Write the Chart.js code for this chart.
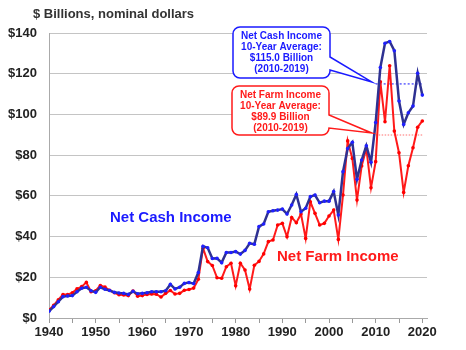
<!DOCTYPE html>
<html>
<head>
<meta charset="utf-8">
<script src="https://cdn.jsdelivr.net/npm/chart.js@4.4.1/dist/chart.umd.min.js"></script>
<style>
  body { margin: 0; background: #fff; }
  #wrap { width: 466px; height: 350px; position: relative; }
</style>
</head>
<body>
<div id="wrap"><canvas id="myChart"></canvas></div>
<script>
// years 1940-2020
const years = [
  1940, 1941, 1942, 1943, 1944, 1945, 1946, 1947, 1948, 1949,
  1950, 1951, 1952, 1953, 1954, 1955, 1956, 1957, 1958, 1959,
  1960, 1961, 1962, 1963, 1964, 1965, 1966, 1967, 1968, 1969,
  1970, 1971, 1972, 1973, 1974, 1975, 1976, 1977, 1978, 1979,
  1980, 1981, 1982, 1983, 1984, 1985, 1986, 1987, 1988, 1989,
  1990, 1991, 1992, 1993, 1994, 1995, 1996, 1997, 1998, 1999,
  2000, 2001, 2002, 2003, 2004, 2005, 2006, 2007, 2008, 2009,
  2010, 2011, 2012, 2013, 2014, 2015, 2016, 2017, 2018, 2019, 2020
];

// $ billions
const netCashIncome = [
  3.3, 5.6, 8.0, 10.5, 10.8, 11.0, 12.9, 14.6, 15.1, 13.4,
  12.6, 15.1, 14.1, 13.5, 12.6, 12.3, 12.1, 11.6, 13.1, 11.9,
  12.1, 12.4, 12.9, 12.9, 12.9, 13.4, 16.5, 14.3, 15.1, 17.0,
  17.4, 16.9, 22.3, 35.2, 34.5, 29.2, 29.3, 27.2, 32.2, 32.2,
  32.6, 31.4, 33.2, 36.7, 36.2, 44.9, 46.2, 52.2, 52.7, 53.0,
  53.5, 51.1, 55.5, 60.7, 52.2, 53.9, 59.6, 60.4, 56.6, 57.4,
  57.4, 62.1, 50.6, 71.9, 83.3, 86.3, 68.1, 77.6, 84.6, 76.5,
  96.0, 123.0, 135.0, 135.8, 131.3, 106.6, 95.1, 100.8, 104.1, 120.2, 109.5
];

const netFarmIncome = [
  4.0, 6.2, 9.0, 11.5, 11.5, 12.4, 14.3, 15.4, 17.5, 12.9,
  13.4, 16.0, 15.2, 13.6, 12.4, 11.4, 11.3, 11.0, 13.3, 10.7,
  11.0, 11.6, 11.8, 11.7, 10.3, 12.1, 13.5, 11.8, 12.1, 13.6,
  14.0, 14.7, 19.0, 34.3, 27.7, 25.8, 19.8, 19.5, 25.2, 26.9,
  15.8, 26.9, 23.6, 14.2, 25.9, 27.8, 31.5, 37.5, 38.3, 45.7,
  46.5, 39.9, 49.4, 46.8, 51.1, 39.1, 57.1, 51.4, 45.7, 46.5,
  50.1, 53.0, 38.6, 60.4, 87.0, 78.4, 58.0, 74.7, 83.3, 64.0,
  76.8, 116.0, 96.4, 123.9, 91.8, 81.2, 61.7, 74.8, 83.6, 93.7, 96.8
];

// 10-year averages (2010-2019)
const avgYears = [2010, 2020];
const cashAvg = 115.0;
const farmAvg = 89.9;

const cashNote = ['Net Cash Income', '10-Year Average:', '$115.0 Billion', '(2010-2019)'];
const farmNote = ['Net Farm Income', '10-Year Average:', '$89.9 Billion', '(2010-2019)'];

const yTicks = [0, 20, 40, 60, 80, 100, 120, 140];

const FONT = "'Liberation Sans', Arial, sans-serif";

function toPoints(xs, ys) {
  return xs.map((x, i) => ({ x: x, y: ys[i] }));
}

// callout box with a tail pointing at the average line
function callout(ctx, box, tip, color, lines) {
  const r = 7;
  const { x, y, w, h, t1, t2 } = box;
  ctx.save();
  ctx.beginPath();
  ctx.moveTo(x + r, y);
  ctx.lineTo(x + w - r, y);
  ctx.arcTo(x + w, y, x + w, y + r, r);
  ctx.lineTo(x + w, t1);
  ctx.lineTo(tip.x, tip.y);
  ctx.lineTo(x + w, t2);
  ctx.lineTo(x + w, y + h - r);
  ctx.arcTo(x + w, y + h, x + w - r, y + h, r);
  ctx.lineTo(x + r, y + h);
  ctx.arcTo(x, y + h, x, y + h - r, r);
  ctx.lineTo(x, y + r);
  ctx.arcTo(x, y, x + r, y, r);
  ctx.closePath();
  ctx.fillStyle = '#fff';
  ctx.fill();
  ctx.lineWidth = 1.5;
  ctx.strokeStyle = color;
  ctx.stroke();

  ctx.fillStyle = color;
  ctx.font = 'bold 10px ' + FONT;
  ctx.textAlign = 'center';
  ctx.textBaseline = 'middle';
  lines.forEach((s, i) => {
    ctx.fillText(s, x + w / 2, y + 9.5 + i * 10.8);
  });
  ctx.restore();
}

const textPlugin = {
  id: 'texts',
  afterDatasetsDraw(chart) {
    const ctx = chart.ctx;
    const xs = chart.scales.x;
    const ys = chart.scales.y;

    ctx.save();
    ctx.fillStyle = '#333';
    ctx.font = 'bold 13px ' + FONT;
    ctx.textAlign = 'left';
    ctx.textBaseline = 'middle';
    ctx.fillText('$ Billions, nominal dollars', 33, 14);

    ctx.font = 'bold 15px ' + FONT;
    ctx.fillStyle = '#1a1aff';
    ctx.fillText('Net Cash Income', 110, 218);
    ctx.fillStyle = '#ff1a1a';
    ctx.fillText('Net Farm Income', 277, 257);
    ctx.restore();

    const tipX = xs.getPixelForValue(avgYears[0]) - 4;
    callout(ctx, { x: 233, y: 27, w: 97, h: 51, t1: 57, t2: 70 },
      { x: tipX, y: ys.getPixelForValue(cashAvg) - 2 }, '#1a1aff', cashNote);
    callout(ctx, { x: 232, y: 86, w: 97, h: 49, t1: 115, t2: 128 },
      { x: tipX, y: ys.getPixelForValue(farmAvg) - 2 }, '#ff1a1a', farmNote);
  }
};

const ctx = document.getElementById('myChart');

new Chart(ctx, {
  type: 'line',
  data: {
    datasets: [
      {
        label: 'Net Cash Income',
        data: toPoints(years, netCashIncome),
        borderColor: '#2e3192',
        borderWidth: 2.5,
        pointRadius: 1.8,
        pointBackgroundColor: '#1f1fff',
        pointBorderColor: '#1f1fff',
        pointBorderWidth: 0,
        tension: 0
      },
      {
        label: 'Net Farm Income',
        data: toPoints(years, netFarmIncome),
        borderColor: '#ff1a1a',
        borderWidth: 2,
        pointRadius: 1.8,
        pointBackgroundColor: '#ff0000',
        pointBorderColor: '#ff0000',
        pointBorderWidth: 0,
        tension: 0
      },
      {
        label: 'cash avg',
        data: toPoints(avgYears, [cashAvg, cashAvg]),
        borderColor: '#6060ff',
        borderWidth: 1.5,
        borderDash: [2, 2],
        pointRadius: 0
      },
      {
        label: 'farm avg',
        data: toPoints(avgYears, [farmAvg, farmAvg]),
        borderColor: '#ff7070',
        borderWidth: 1.2,
        borderDash: [1.5, 1.5],
        pointRadius: 0
      }
    ]
  },
  options: {
    responsive: true,
    maintainAspectRatio: false,
    animation: false,
    layout: { padding: { top: 33, right: 39, left: 0, bottom: 0 } },
    plugins: {
      legend: { display: false },
      tooltip: { enabled: false }
    },
    scales: {
      x: {
        type: 'linear',
        min: 1940,
        max: 2021,
        grid: { drawOnChartArea: false, drawTicks: true, tickLength: 5, color: '#999' },
        border: { color: '#aaa', width: 1 },
        ticks: {
          stepSize: 5,
          includeBounds: false,
          autoSkip: false,
          maxRotation: 0,
          padding: 2,
          color: '#222',
          font: { family: FONT, size: 13, weight: 'bold' },
          callback: v => (v % 10 === 0 ? String(v) : '')
        },
        afterFit: s => { s.height = 32; }
      },
      y: {
        min: 0,
        max: 140,
        afterBuildTicks: s => { s.ticks = yTicks.map(v => ({ value: v })); },
        grid: { color: '#c4c4c4', drawTicks: false, lineWidth: 1 },
        border: { color: '#aaa', width: 1 },
        ticks: {
          padding: 12,
          color: '#222',
          font: { family: FONT, size: 13, weight: 'bold' },
          callback: v => '$' + v
        },
        afterFit: s => { s.width = 49; }
      }
    }
  },
  plugins: [textPlugin]
});
</script>
</body>
</html>
